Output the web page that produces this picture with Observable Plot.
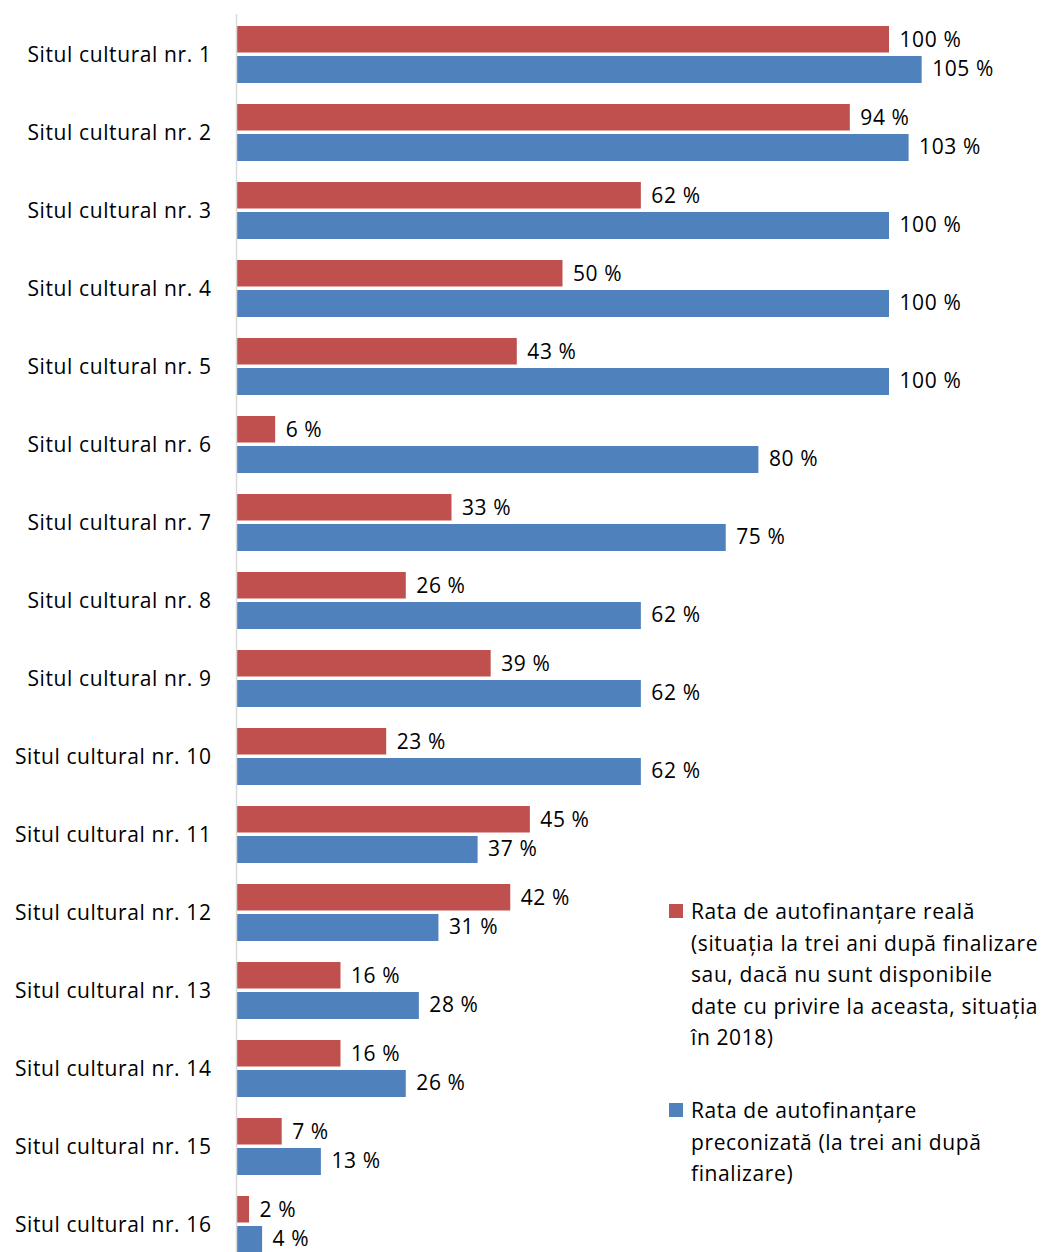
<!DOCTYPE html>
<html>
<head>
<meta charset="utf-8">
<script src="https://cdn.jsdelivr.net/npm/d3@7"></script>
<script src="https://cdn.jsdelivr.net/npm/@observablehq/plot@0.6"></script>
<style>
  html, body { margin: 0; padding: 0; background: #fff; }
  #wrap { position: relative; width: 1043px; height: 1252px; overflow: hidden; font-family: "Open Sans", sans-serif; }
  #legend { position: absolute; left: 668px; top: 896px; width: 375px; font-size: 21px; letter-spacing: 0.6px; line-height: 31.6px; color: #000; white-space: nowrap; }
  .item { position: relative; padding-left: 23px; }
  .sw { position: absolute; left: 1px; top: 8px; width: 14px; height: 14px; }
</style>
</head>
<body>
<div id="wrap"><div id="chart"></div><div id="legend"></div></div>
<script>
const sites = ["Situl cultural nr. 1","Situl cultural nr. 2","Situl cultural nr. 3","Situl cultural nr. 4","Situl cultural nr. 5","Situl cultural nr. 6","Situl cultural nr. 7","Situl cultural nr. 8","Situl cultural nr. 9","Situl cultural nr. 10","Situl cultural nr. 11","Situl cultural nr. 12","Situl cultural nr. 13","Situl cultural nr. 14","Situl cultural nr. 15","Situl cultural nr. 16"];
const realRate = [100,94,62,50,43,6,33,26,39,23,45,42,16,16,7,2];
const plannedRate = [105,103,100,100,100,80,75,62,62,62,37,31,28,26,13,4];
const legendRealLines = ["Rata de autofinanțare reală", "(situația la trei ani după finalizare", "sau, dacă nu sunt disponibile", "date cu privire la aceasta, situația", "în 2018)"];
const legendPlannedLines = ["Rata de autofinanțare", "preconizată (la trei ani după", "finalizare)"];
const colors = ["#C0504D", "#4F81BD"];

const realData = sites.map((s, i) => ({site: s, value: realRate[i]}));
const plannedData = sites.map((s, i) => ({site: s, value: plannedRate[i]}));
const fmt = d => `${d.value} %`;

const chart = Plot.plot({
  width: 1043,
  height: 1252,
  marginLeft: 236,
  marginRight: 23.4,
  marginTop: 14,
  marginBottom: 0,
  style: {fontFamily: "'Open Sans', sans-serif", fontSize: "21px", letterSpacing: "0.6px", color: "#000", background: "#fff"},
  x: {domain: [0, 120], axis: null},
  y: {domain: sites, range: [14.5, 1263.6], paddingInner: 0.27, paddingOuter: 0.135, label: null},
  marks: [
    Plot.barX(realData, {y: "site", x: "value", fill: colors[0], insetBottom: 30.5}),
    Plot.barX(plannedData, {y: "site", x: "value", fill: colors[1], insetTop: 30}),
    Plot.text(realData, {y: "site", x: "value", text: fmt, textAnchor: "start", dx: 10, dy: -14.5, fill: "#000", fontSize: 21}),
    Plot.text(plannedData, {y: "site", x: "value", text: fmt, textAnchor: "start", dx: 10, dy: 14.5, fill: "#000", fontSize: 21}),
    Plot.ruleX([0], {stroke: "#d9d9d9", strokeWidth: 1.5}),
    Plot.axisY({tickSize: 0, tickPadding: 25, fontSize: 21, label: null})
  ]
});
document.getElementById("chart").append(chart);

const legend = document.getElementById("legend");
[legendRealLines, legendPlannedLines].forEach((lines, i) => {
  const div = document.createElement("div");
  div.className = "item";
  if (i > 0) div.style.marginTop = "41px";
  const sw = document.createElement("span");
  sw.className = "sw";
  sw.style.background = colors[i];
  div.append(sw);
  lines.forEach((ln, j) => {
    if (j > 0) div.append(document.createElement("br"));
    div.append(document.createTextNode(ln));
  });
  legend.append(div);
});
</script>
</body>
</html>
